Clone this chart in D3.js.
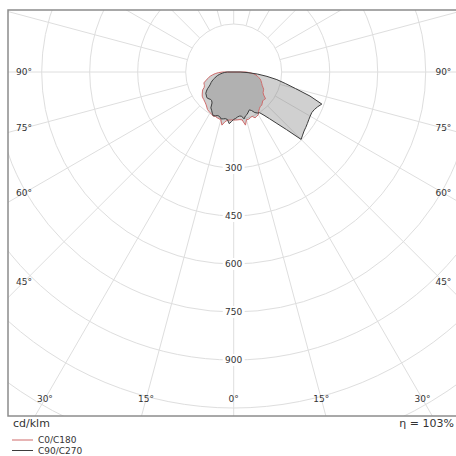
<!DOCTYPE html>
<html>
<head>
<meta charset="utf-8">
<script src="https://cdn.jsdelivr.net/npm/d3@7"></script>
<style>
html,body{margin:0;padding:0;background:#fff;overflow:hidden;}
svg{display:block;}
text{font-family:"DejaVu Sans",Verdana,sans-serif;fill:#333;}
</style>
</head>
<body>
<svg id="chart" width="456" height="456"></svg>
<script>
// ---- data ----
const gammas = [0,2.5,5,7.5,10,12.5,15,17.5,20,22.5,25,27.5,30,32.5,35,37.5,40,42.5,45,47.5,50,52.5,55,57.5,60,62.5,65,67.5,70,72.5,75,77.5,80,82.5,85,87.5,90];
const c0   = [150,150,150,150,152,170,154,155,152,150,158,156,154,145,140,136,136,132,128,128,130,118,112,110,108,103,98,95,92,89,86,80,75,70,62,50,38];
const c180 = [150,150,151,152,158,170,155,153,152,150,152,149,147,145,143,138,134,131,129,127,126,124,120,116,112,104,101,100,99,92,86,80,74,66,58,48,35];
const c90  = [148,145,141,139,140,150,142,139,133,128,133,143,148,151,165,184,210,244,298,292,287,284,281,278,276,275,278,284,293,250,200,165,137,105,75,45,20];
const c270 = [148,155,162,150,148,150,152,146,145,148,151,145,138,133,118,113,112,114,116,115,112,110,104,97,88,82,78,73,68,62,57,52,46,40,34,28,20];
const ringValues = [150,300,450,600,750,900,1050,1200,1350,1500];
const ringLabels = [300,450,600,750,900];
const angleTicks = [0,15,30,45,60,75,90];
const seriesNames = ["C0/C180","C90/C270"];
const unitLabel = "cd/klm";
const etaLabel = "\u03b7 = 103%";

// ---- layout ----
const cx = 233.7, cy = 72;
const frame = {x0: 8, y0: 10, x1: 470, y1: 416};
const r = d3.scaleLinear().domain([0,150]).range([0,48]);
const svg = d3.select("#chart");

svg.append("clipPath").attr("id","clip").append("rect")
  .attr("x",frame.x0).attr("y",frame.y0)
  .attr("width",frame.x1-frame.x0).attr("height",frame.y1-frame.y0);

const g = svg.append("g").attr("clip-path","url(#clip)");
const deg = Math.PI/180;
const px = (gam, rad, side) => cx + side*rad*Math.sin(gam*deg);
const py = (gam, rad) => cy + rad*Math.cos(gam*deg);

// grid circles
g.selectAll("circle.ring").data(ringValues).enter().append("circle")
  .attr("class","ring").attr("cx",cx).attr("cy",cy).attr("r",d=>r(d))
  .attr("fill","none").attr("stroke","#dedede").attr("stroke-width",1);

// radial lines every 15 degrees
const radials = d3.range(0,360,15);
g.selectAll("line.rad").data(radials).enter().append("line")
  .attr("x1",d=>px(d,r(150),1)).attr("y1",d=>py(d,r(150)))
  .attr("x2",d=>px(d,r(2500),1)).attr("y2",d=>py(d,r(2500)))
  .attr("stroke","#dedede").attr("stroke-width",1);

// curves
const radial = d3.lineRadial()
  .angle(d=>d.a).radius(d=>r(d.v)).curve(d3.curveLinear);
function curvePts(left,right){
  const pts=[];
  for(let i=gammas.length-1;i>=0;i--) pts.push({a:Math.PI+gammas[i]*deg, v:left[i]});
  for(let i=0;i<gammas.length;i++) pts.push({a:Math.PI-gammas[i]*deg, v:right[i]});
  return pts;
}
const curves = [
  {pts: curvePts(c180,c0), stroke:"#cf6b6b"},
  {pts: curvePts(c270,c90), stroke:"#3c3c3c"}
];
const cg = g.append("g").attr("transform",`translate(${cx},${cy})`);
cg.selectAll("path.fill").data(curves).enter().append("path")
  .attr("d",d=>radial(d.pts)+"Z")
  .attr("fill","#777").attr("fill-opacity",0.35).attr("stroke","none");
cg.selectAll("path.line").data(curves).enter().append("path")
  .attr("d",d=>radial(d.pts)+"Z")
  .attr("fill","none").attr("stroke",d=>d.stroke).attr("stroke-width",1);

// ring labels
const rl = svg.selectAll("g.rl").data(ringLabels).enter().append("g")
  .attr("transform",d=>`translate(${cx},${cy+r(d)})`);
rl.append("rect").attr("x",-11).attr("y",-6).attr("width",22).attr("height",12).attr("fill","#fff");
rl.append("text").attr("text-anchor","middle").attr("dy","0.36em")
  .attr("font-size","9px").text(d=>d);

// angle labels
const inset = {x0: 24, x1: 2*cx-24, y1: frame.y1-17};
const angPos = [];
angleTicks.forEach(a=>{
  [-1,1].forEach(side=>{
    if(a===0 && side===1) return;
    const s=Math.sin(a*deg), c=Math.cos(a*deg);
    const tx = s>1e-9 ? (side<0 ? (cx-inset.x0) : (inset.x1-cx))/s : Infinity;
    const ty = c>1e-9 ? (inset.y1-cy)/c : Infinity;
    const t = Math.min(tx,ty);
    angPos.push({a, x: cx+side*t*s, y: cy+t*c});
  });
});
svg.selectAll("text.ang").data(angPos).enter().append("text")
  .attr("x",d=>d.x).attr("y",d=>d.y).attr("dy","0.36em")
  .attr("text-anchor","middle").attr("font-size","9px").text(d=>d.a+"\u00b0");

// frame
svg.append("rect").attr("x",frame.x0).attr("y",frame.y0)
  .attr("width",frame.x1-frame.x0).attr("height",frame.y1-frame.y0)
  .attr("fill","none").attr("stroke","#8c8c8c").attr("stroke-width",1.5);

// bottom texts
svg.append("text").attr("x",13).attr("y",427).attr("font-size","11px").text(unitLabel);
svg.append("text").attr("x",454).attr("y",427).attr("text-anchor","end").attr("font-size","11px").text(etaLabel);

// legend
const legColors = ["#cf6b6b","#3c3c3c"];
const lg = svg.selectAll("g.leg").data(seriesNames).enter().append("g")
  .attr("transform",(d,i)=>`translate(0,${440+i*10.5})`);
lg.append("line").attr("x1",12).attr("x2",33).attr("y1",0).attr("y2",0)
  .attr("stroke",(d,i)=>legColors[i]).attr("stroke-width",1);
lg.append("text").attr("x",38).attr("y",0).attr("dy","0.36em").attr("font-size","9px").text(d=>d);
</script>
</body>
</html>
